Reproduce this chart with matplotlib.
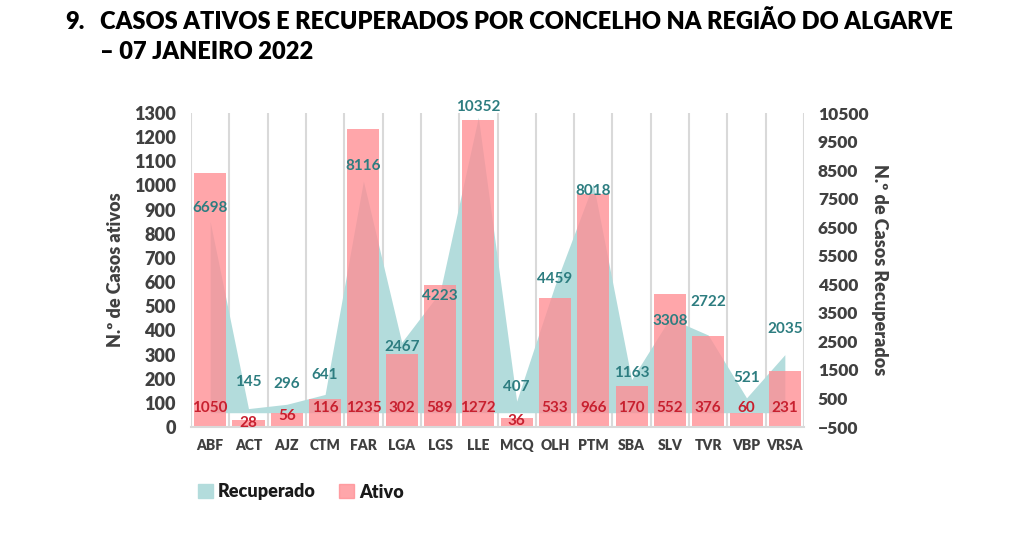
import numpy as np
import matplotlib
matplotlib.use('Agg')
import matplotlib.pyplot as plt
from matplotlib.patches import Patch

plt.rcParams['font.family'] = ['Lato', 'DejaVu Sans']

# concelhos do Algarve
concelhos = ['ABF', 'ACT', 'AJZ', 'CTM', 'FAR', 'LGA', 'LGS', 'LLE',
             'MCQ', 'OLH', 'PTM', 'SBA', 'SLV', 'TVR', 'VBP', 'VRSA']
ativos = [1050, 28, 56, 116, 1235, 302, 589, 1272,
          36, 533, 966, 170, 552, 376, 60, 231]
recuperados = [6698, 145, 296, 641, 8116, 2467, 4223, 10352,
               407, 4459, 8018, 1163, 3308, 2722, 521, 2035]

# deslocamento vertical das etiquetas dos recuperados (unidades do eixo direito)
rec_label_off = [476, 930, 710, 680, 529, -164, -133, 360,
                 497, 228, -251, 232, -94, 1155, 697, 900]

bar_col = '#FF8D93'
area_col = '#B3DCDC'
red_txt = '#C8202F'
teal_txt = '#2D7D80'
axis_txt = '#404040'
grid_col = '#D9D9D9'

fig = plt.figure(figsize=(10.24, 5.33), dpi=100)
ax = fig.add_axes([191/1024, 106/533, 613/1024, 314/533])
ax2 = ax.twinx()
ax.set_zorder(ax2.get_zorder() + 1)
ax.patch.set_visible(False)

x = np.arange(len(concelhos))

# área dos recuperados (eixo direito)
ax2.fill_between(x, 0, recuperados, color=area_col, linewidth=0)
ax2.set_ylim(-500, 10500)
ax2.set_yticks(np.arange(-500, 10501, 1000))

# barras dos ativos (eixo esquerdo)
ax.bar(x, ativos, width=0.84, color=bar_col, alpha=0.78, linewidth=0)
ax.set_ylim(0, 1300)
ax.set_yticks(np.arange(0, 1301, 100))
ax.set_xlim(-0.5, len(concelhos) - 0.5)
ax.set_xticks(x)
ax.set_xticklabels(concelhos)

for b in np.arange(-0.5, len(concelhos), 1.0):
    ax2.axvline(b, color=grid_col, linewidth=1.5, zorder=0)

for a in (ax, ax2):
    for s in a.spines.values():
        s.set_visible(False)
    a.tick_params(length=0)
ax.spines['bottom'].set_visible(True)
ax.spines['bottom'].set_color(grid_col)
ax.spines['bottom'].set_linewidth(1.5)

for lab in ax.get_yticklabels():
    lab.set_fontsize(13)
    lab.set_fontweight('heavy')
    lab.set_color(axis_txt)
for lab in ax2.get_yticklabels():
    lab.set_fontsize(12.5)
    lab.set_fontweight('heavy')
    lab.set_color(axis_txt)
for lab in ax.get_xticklabels():
    lab.set_fontsize(10)
    lab.set_fontweight('heavy')
    lab.set_color(axis_txt)
ax.tick_params(axis='x', pad=9)
ax.tick_params(axis='y', pad=11)
ax2.tick_params(axis='y', pad=10)

ax.set_ylabel('N.º de Casos ativos', fontsize=13, fontweight='heavy',
              color=axis_txt, labelpad=7)
ax2.set_ylabel('N.º de Casos Recuperados', fontsize=13, fontweight='heavy',
               color=axis_txt, rotation=270, labelpad=14)

# etiquetas
for i, v in enumerate(ativos):
    y = 79 if v >= 60 else v - 12
    ax.text(i, y, str(v), ha='center', va='center', fontsize=11,
            color=red_txt, fontweight='bold')
for i, v in enumerate(recuperados):
    ax.text(i, v + rec_label_off[i], str(v), ha='center', va='center',
            fontsize=11, color=teal_txt, fontweight='bold',
            transform=ax2.transData, clip_on=False)

# legenda
handles = [Patch(color=area_col, label='Recuperado'),
           Patch(color=bar_col, alpha=0.78, label='Ativo')]
fig.legend(handles=handles, loc='center left',
           bbox_to_anchor=(182/1024, 1 - 492/533), ncol=2, frameon=False,
           handlelength=0.8, handleheight=0.8, handletextpad=0.3,
           columnspacing=1.3, prop={'size': 13, 'weight': 'heavy'},
           labelcolor='#1a1a1a')

# título
fig.text(65/1024, 1 - 22/533, '9.', fontsize=17, fontweight='heavy',
         va='center', ha='left')
fig.text(100/1024, 1 - 22/533,
         'CASOS ATIVOS E RECUPERADOS POR CONCELHO NA REGIÃO DO ALGARVE',
         fontsize=17, fontweight='heavy', va='center', ha='left')
fig.text(100/1024, 1 - 52/533, '– 07 JANEIRO 2022', fontsize=17,
         fontweight='heavy', va='center', ha='left')

fig.savefig('out.png', dpi=100)
